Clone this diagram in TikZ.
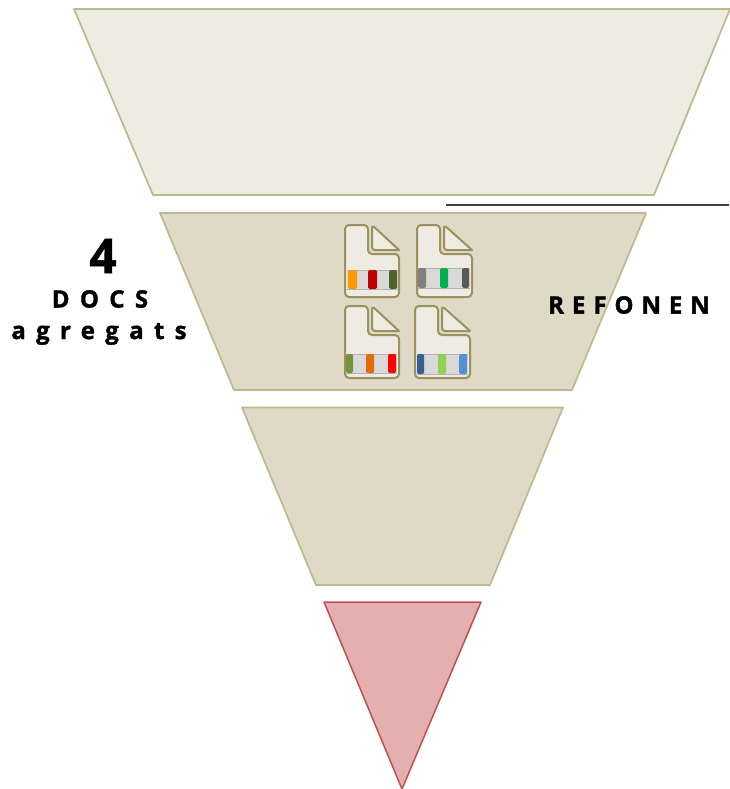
\documentclass[tikz,border=0pt]{standalone}
\usepackage{fontspec}
\setmainfont{Open Sans}
\newfontfamily\heavyfour[FakeBold=1.2]{Open Sans Bold}
\newfontfamily\spacedA[LetterSpace=33,FakeBold=1.5]{Open Sans Bold}
\newfontfamily\spacedB[LetterSpace=43,FakeBold=1.5]{Open Sans Bold}
\definecolor{palefill}{HTML}{ECECE0}
\definecolor{tanfill}{HTML}{DFDAC5}
\definecolor{tanedge}{HTML}{BDB88E}
\definecolor{redfill}{HTML}{E3AFAF}
\definecolor{rededge}{HTML}{C0504D}
\definecolor{docfill}{HTML}{EEEBE3}
\definecolor{docedge}{HTML}{9A9060}
\definecolor{barfill}{HTML}{D9D9D9}
\definecolor{chipA}{HTML}{FF9900}
\definecolor{chipB}{HTML}{C00000}
\definecolor{chipC}{HTML}{4F6228}
\definecolor{chipD}{HTML}{7F7F7F}
\definecolor{chipE}{HTML}{00B050}
\definecolor{chipF}{HTML}{595959}
\definecolor{chipG}{HTML}{76923C}
\definecolor{chipH}{HTML}{E36C09}
\definecolor{chipI}{HTML}{FF0000}
\definecolor{chipJ}{HTML}{366092}
\definecolor{chipK}{HTML}{92D050}
\definecolor{chipL}{HTML}{558ED5}
\tikzset{
  x=1pt,y=-1pt,
  funnel/.style={draw=tanedge,line width=1.7pt,line join=round},
  docline/.style={draw=docedge,fill=docfill,line width=2pt,line join=round},
  chip/.style={rounded corners=1.5pt},
  label/.style={inner sep=0pt,text=black},
}
\newcommand{\docicon}[7]{%
  \begin{scope}[shift={(#1,#2)}]
    \draw[docline,rounded corners=4pt] (0,0) -- (23,0) -- (23,29) -- (#3,29) -- (#3,72) -- (0,72) -- cycle;
    \draw[docline] (27,0) -- (#3,25) -- (29,25) [rounded corners=3pt] -- (27,25) -- cycle;
    \fill[barfill] (#6,#4) rectangle (#7,#5);
    \draw[black!30,line width=0.4pt] (#6,#4) -- (#7,#4) (#6,#5) -- (#7,#5);
  \end{scope}}
\newcommand{\docchip}[6]{\fill[#6,chip] (#1+#2,#4) rectangle (#1+#3,#5);}
\begin{document}
\begin{tikzpicture}
\useasboundingbox (0,0) rectangle (729,789);
\draw[funnel,fill=palefill] (74,9) -- (730,9) -- (654,195) -- (153,195) -- cycle;
\draw[funnel,fill=tanfill] (160,213) -- (646,213) -- (572,390) -- (234,390) -- cycle;
\draw[funnel,fill=tanfill] (242,407.5) -- (563,407.5) -- (490,585) -- (316,585) -- cycle;
\draw[draw=rededge,line width=1.5pt,line join=round,fill=redfill] (324,602) -- (481,602) -- (402,789) -- cycle;
\coordinate (ruleA) at (446,204.6);
\coordinate (ruleB) at (729,204.6);
\draw[black!75,line width=1.8pt] (ruleA) -- (ruleB);

\docicon{345}{225}{54}{45}{64}{2}{53}
\docchip{345}{3}{12}{270}{289}{chipA}
\docchip{345}{23}{32}{270}{289}{chipB}
\docchip{345}{44}{52}{270}{289}{chipC}

\docicon{417}{225}{55}{43}{63}{1}{53}
\docchip{417}{1}{9}{268}{288}{chipD}
\docchip{417}{23}{31}{268}{288}{chipE}
\docchip{417}{45}{52}{268}{288}{chipF}

\docicon{345}{306}{54}{48}{67}{1}{52}
\docchip{345}{1}{8}{354}{373}{chipG}
\docchip{345}{21}{29}{354}{373}{chipH}
\docchip{345}{43}{51}{354}{373}{chipI}

\docicon{415}{306}{55}{48}{68}{2}{53}
\docchip{415}{2}{9}{354}{374}{chipJ}
\docchip{415}{23}{31}{354}{374}{chipK}
\docchip{415}{44}{52}{354}{374}{chipL}

\node[label,font=\heavyfour\fontsize{48}{48}\selectfont] (four) at (103,256) {4};
\node[label,font=\spacedB\fontsize{24}{24}\selectfont] (docs) at (100,299) {DOCS};
\node[label,font=\spacedB\fontsize{24}{24}\selectfont] (agg) at (99,334) {agregats};
\node[label,font=\spacedA\fontsize{24}{24}\selectfont] (ref) at (629,305) {REFONEN};
\end{tikzpicture}
\end{document}
